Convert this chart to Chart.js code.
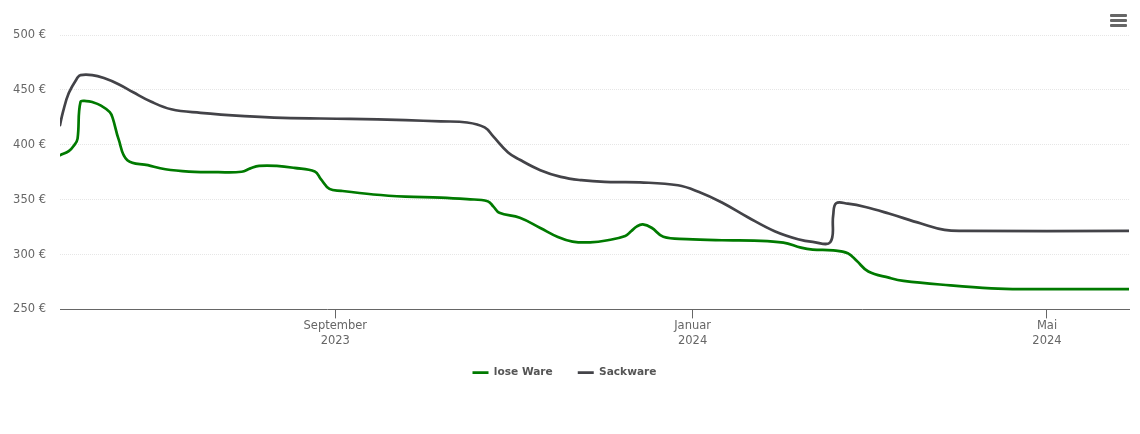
<!DOCTYPE html>
<html>
<head>
<meta charset="utf-8">
<title>Preisentwicklung</title>
<script src="https://cdn.jsdelivr.net/npm/chart.js@4"></script>
<style>
  html, body { margin: 0; padding: 0; background: #fff; }
  #wrap { position: relative; width: 1140px; height: 434px; overflow: hidden; }
  #menu { position: absolute; left: 1110px; top: 14px; width: 17px; }
  #menu div { height: 3px; background: #666; border-radius: 1px; margin-bottom: 2px; }
</style>
</head>
<body>
<div id="wrap">
  <canvas id="chart" width="1140" height="434"></canvas>
  <div id="menu"><div></div><div></div><div></div></div>
</div>
<script>
const looseDates = ["2023-05-30","2023-06-02","2023-06-04","2023-06-05","2023-06-06","2023-06-08","2023-06-10","2023-06-13","2023-06-16","2023-06-17","2023-06-19","2023-06-22","2023-06-29","2023-07-05","2023-07-13","2023-07-23","2023-07-31","2023-08-03","2023-08-06","2023-08-12","2023-08-18","2023-08-25","2023-08-27","2023-08-30","2023-09-03","2023-09-14","2023-09-25","2023-10-07","2023-10-16","2023-10-23","2023-10-25","2023-10-27","2023-11-03","2023-11-10","2023-11-16","2023-11-21","2023-11-27","2023-12-03","2023-12-09","2023-12-11","2023-12-13","2023-12-15","2023-12-18","2023-12-22","2023-12-30","2024-01-11","2024-01-22","2024-02-01","2024-02-07","2024-02-11","2024-02-18","2024-02-23","2024-02-26","2024-03-01","2024-03-08","2024-03-13","2024-03-29","2024-04-12","2024-04-22","2024-05-29"]
const looseValues = [390.5,394.2,400.1,405.6,438.9,439.8,438.9,435.7,429.7,424.3,405.1,385.9,381.4,377.7,375.6,375,375.4,378.5,380.7,380.7,378.9,375.6,369,359.8,358,354.7,352.8,351.9,350.4,348.6,343.6,338,333.5,324.2,316,311.8,311.1,313,316.9,321.2,325.7,327.4,324.4,316.2,314.1,313,312.7,310.9,306.3,304.5,303.8,301.1,294.3,284.5,278.9,276,271.9,269.2,268.5,268.5]

const sackDates = ["2023-05-30","2023-05-31","2023-06-02","2023-06-05","2023-06-06","2023-06-10","2023-06-14","2023-06-19","2023-06-24","2023-06-30","2023-07-07","2023-07-17","2023-08-01","2023-08-14","2023-09-06","2023-09-25","2023-10-07","2023-10-16","2023-10-22","2023-10-25","2023-10-30","2023-11-03","2023-11-10","2023-11-17","2023-11-24","2023-12-02","2023-12-14","2023-12-27","2024-01-03","2024-01-11","2024-01-20","2024-01-29","2024-02-06","2024-02-11","2024-02-17","2024-02-18","2024-02-19","2024-02-23","2024-02-29","2024-03-08","2024-03-19","2024-03-27","2024-04-03","2024-05-29"]
const sackValues = [417.9,429.7,447.1,461.2,463.5,463.5,460.8,455.2,447.8,439.4,432.3,429.1,426.1,424.5,423.6,422.4,421.3,420.3,415.8,407.4,393,386.3,376.8,370.7,367.7,366.1,365.7,363.1,357.2,347.4,333.7,321.2,313.9,311.5,311.2,335.8,346.7,346.3,343.3,337.3,328.2,322.4,321.5,321.5]

const tickDates = ["2023-09-01","2024-01-01","2024-05-01"]
const tickLabels = [["September","2023"],["Januar","2024"],["Mai","2024"]]

const toTime = d => Date.parse(d + "T00:00:00Z")
const toPoints = (dates, values) => dates.map((d, i) => ({ x: toTime(d), y: values[i] }))
const tickTimes = tickDates.map(toTime)

const font = "'DejaVu Sans', sans-serif"

new Chart(document.getElementById("chart"), {
  type: "line",
  data: {
    datasets: [
      { label: "lose Ware", data: toPoints(looseDates, looseValues), borderColor: "#007a00", backgroundColor: "#007a00", borderWidth: 2.7, borderCapStyle: "round", tension: 0.4 },
      { label: "Sackware", data: toPoints(sackDates, sackValues), borderColor: "#434348", backgroundColor: "#434348", borderWidth: 2.7, borderCapStyle: "round", tension: 0.4 }
    ]
  },
  options: {
    responsive: false,
    animation: false,
    elements: { point: { radius: 0 } },
    layout: { padding: { top: 35, right: 11, left: 0, bottom: 46 } },
    scales: {
      x: {
        type: "linear",
        min: toTime("2023-05-30"),
        max: toTime("2024-05-29"),
        afterBuildTicks: scale => { scale.ticks = tickTimes.map(value => ({ value })) },
        afterFit: scale => {
          scale.height = 33
          // the two-line labels run past the short box, don't let them get clipped
          scale._computeLabelArea = () => null
        },
        border: { color: "#666", width: 1 },
        grid: { drawOnChartArea: false, tickLength: 9, tickColor: "#666" },
        ticks: {
          autoSkip: false,
          maxRotation: 0,
          padding: 0,
          color: "#666",
          font: { family: font, size: 11.5, lineHeight: 1.3 },
          callback: value => tickLabels[tickTimes.indexOf(value)]
        }
      },
      y: {
        min: 250,
        max: 500,
        afterFit: scale => { scale.width = 60 },
        border: { display: false, dash: [1, 1] },
        grid: { color: "#e6e6e6", lineWidth: 1, drawTicks: false },
        ticks: {
          stepSize: 50,
          padding: 14,
          color: "#666",
          font: { family: font, size: 11.5 },
          callback: value => value + " €"
        }
      }
    },
    plugins: {
      tooltip: { enabled: false },
      legend: {
        position: "bottom",
        labels: {
          usePointStyle: true,
          pointStyle: "line",
          pointStyleWidth: 16,
          boxHeight: 8,
          padding: 25,
          color: "#555",
          font: { family: font, size: 10.6, weight: "bold" }
        }
      }
    }
  }
})
</script>
</body>
</html>
